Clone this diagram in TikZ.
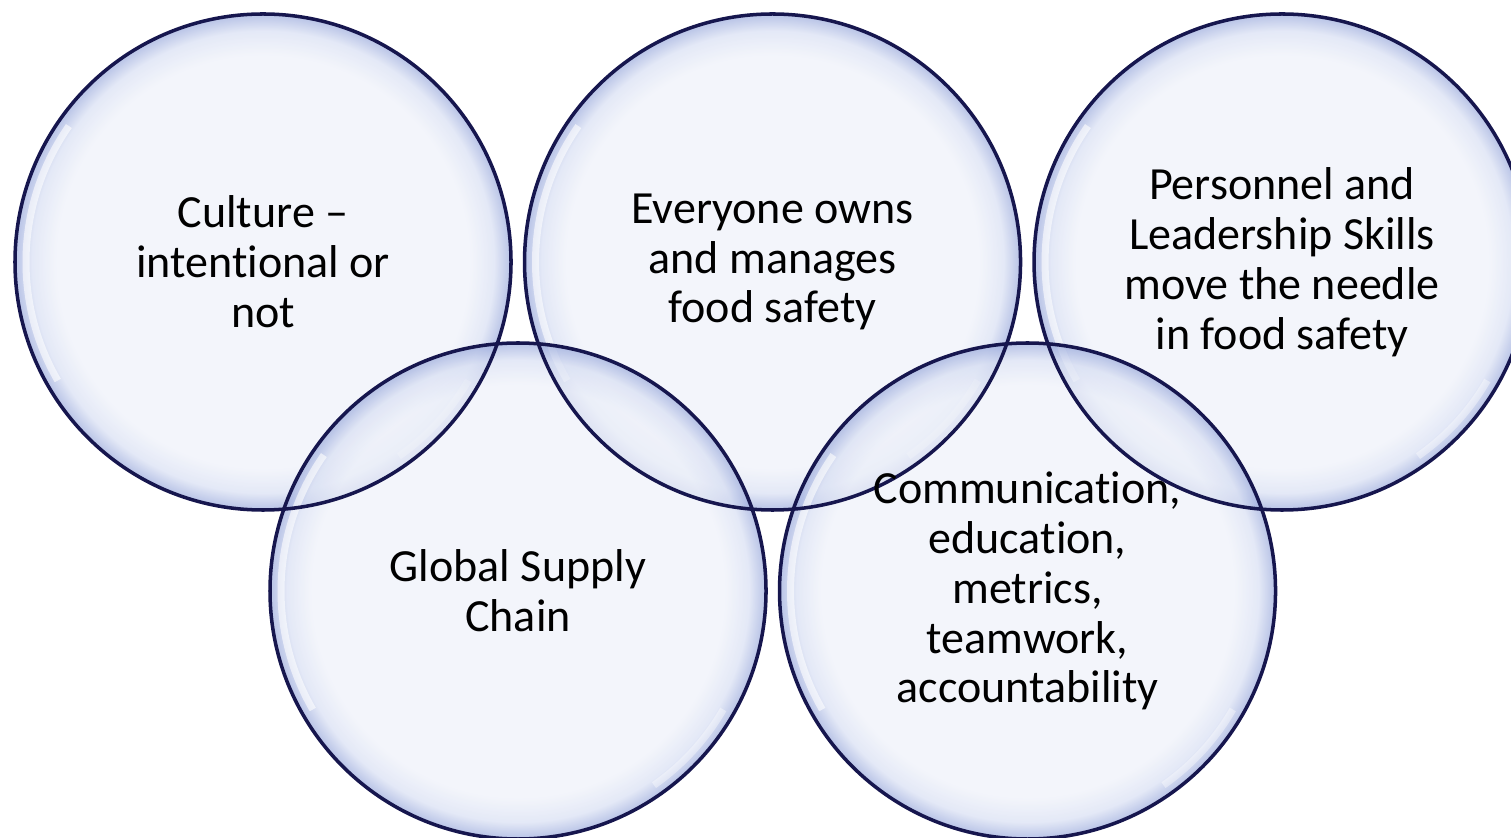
\documentclass[tikz,border=0pt]{standalone}
\usepackage{fontspec}
\setmainfont{Carlito}[Ligatures=NoCommon]
\usetikzlibrary{positioning, backgrounds}

\definecolor{ringline}{RGB}{22,22,78}
\definecolor{bubin}{RGB}{238,241,249}
\definecolor{bubmid}{RGB}{216,223,243}
\definecolor{bubout}{RGB}{160,175,222}
% shading square is 100bp, path edge sits at 25bp
\pgfdeclareradialshading{bubble}{\pgfpoint{0bp}{0bp}}{%
    color(0bp)=(bubin); color(20.8bp)=(bubin); color(23.3bp)=(bubmid);
    color(24.8bp)=(bubout); color(50bp)=(bubout)}

\tikzset{
    ring/.style={
        draw=ringline, line width=1pt,
        circle, inner sep=0pt,
        minimum size=4.96cm,
        align=center,
        font=\fontsize{13.1pt}{14.2pt}\selectfont
    },
    ringfill/.style={shading=bubble, fill opacity=0.7},
    glint/.style={white, line width=2pt, opacity=0.6}
}

\begin{document}
\begin{tikzpicture}
    \useasboundingbox (0,0) rectangle (15.11,-8.38);

    % top row
    \node [ring] (culture) at (2.63,-2.62) {
        Culture --\\
        intentional or\\
        not
    };

    \node [ring,
        right=0.1 of culture
    ] (everyone) {
        Everyone owns\\
        and manages\\
        food safety
    };

    \node [ring,
        right=0.1 of everyone
    ] (personnel) {
        Personnel and\\
        Leadership Skills\\
        move the needle\\
        in food safety
    };

    % bottom row
    \node [ring] (supply) at (5.18,-5.91) {
        Global Supply\\
        Chain
    };

    \node [ring,
        right=0.1 of supply
    ] (communication) {
        Communication,\\
        education,\\
        metrics,\\
        teamwork,\\
        accountability
    };

    % glassy fills behind the rings
    \begin{scope}[on background layer]
        \foreach \n in {culture, everyone, personnel, supply, communication} {
            \shade [ringfill] (\n.center) circle [radius=2.48];
            \draw [glint] ([shift={(145:2.37)}]\n.center)
                arc [start angle=145, end angle=210, radius=2.37];
            \draw [glint, opacity=0.4] ([shift={(-55:2.37)}]\n.center)
                arc [start angle=-55, end angle=-30, radius=2.37];
        }
    \end{scope}
\end{tikzpicture}
\end{document}
